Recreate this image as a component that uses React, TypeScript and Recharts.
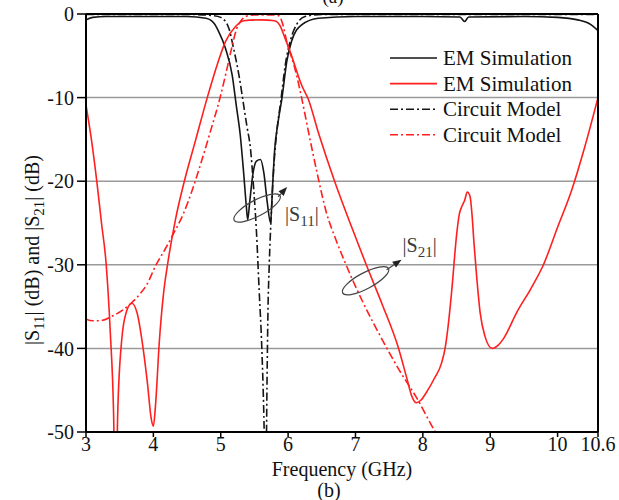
import {
  ComposedChart,
  Line,
  XAxis,
  YAxis,
  CartesianGrid,
  ReferenceLine,
  ReferenceDot,
  Customized,
} from "recharts";

const FONT = "'Liberation Serif', 'Times New Roman', serif";
const RED = "#ff1f1f";
const BLACK = "#151515";
const DASHDOT = "8 3 2 3";

// |S11| EM simulation (black solid)
const s11EmFreq = [3.0, 3.1, 3.3, 4.0, 4.5, 4.78, 4.9, 4.97, 5.07, 5.17, 5.23, 5.29, 5.34, 5.38, 5.4, 5.43, 5.48, 5.53, 5.59, 5.64, 5.69, 5.74, 5.77, 5.8, 5.85, 5.91, 5.98, 6.05, 6.2, 6.45, 7.0, 8.0, 8.55, 8.62, 8.68, 9.5, 10.0, 10.3, 10.5, 10.6];
const s11EmDb = [-0.7, -0.4, -0.3, -0.3, -0.3, -0.5, -1.1, -2.1, -4.1, -7.3, -10.9, -14.5, -19, -23, -24.6, -22.5, -19, -17.6, -17.4, -19, -22.5, -25, -20.5, -16.3, -13, -10, -5.7, -3.3, -1.3, -0.5, -0.3, -0.3, -0.35, -0.9, -0.35, -0.3, -0.4, -0.7, -1.3, -2.0];

// |S11| circuit model (black dash-dot)
const s11CmFreq = [3.0, 4.5, 4.9, 5.0, 5.12, 5.19, 5.27, 5.34, 5.39, 5.44, 5.49, 5.53, 5.57, 5.61, 5.64, 5.665, 5.69, 5.7, 5.72, 5.75, 5.79, 5.84, 5.89, 5.96, 6.04, 6.13, 6.25, 6.5, 10.6];
const s11CmDb = [-0.05, -0.05, -0.2, -0.4, -1.7, -4.1, -7.3, -10.9, -13.5, -16, -21, -26, -33, -40, -48, -58, -42, -36, -30, -24, -18, -13.5, -10.5, -6, -3, -1.2, -0.3, -0.05, -0.05];

// |S21| EM simulation (red solid)
const s21EmFreq = [3.0, 3.08, 3.16, 3.23, 3.3, 3.36, 3.41, 3.44, 3.47, 3.53, 3.6, 3.68, 3.76, 3.83, 3.91, 3.97, 4.0, 4.03, 4.09, 4.15, 4.21, 4.33, 4.46, 4.63, 4.8, 4.95, 5.07, 5.22, 5.34, 5.6, 5.8, 5.88, 5.95, 6.03, 6.2, 6.3, 6.45, 6.69, 6.92, 7.16, 7.4, 7.64, 7.76, 7.84, 7.9, 7.97, 8.05, 8.17, 8.28, 8.33, 8.38, 8.43, 8.5, 8.54, 8.58, 8.62, 8.66, 8.7, 8.73, 8.76, 8.8, 8.85, 8.92, 9.03, 9.12, 9.2, 9.4, 9.6, 9.79, 10.0, 10.2, 10.4, 10.6];
const s21EmDb = [-10.9, -15, -20, -25, -30, -38, -48, -62, -48, -39, -35.6, -34.6, -35.8, -39, -44, -48.5, -49.3, -47, -39, -33.5, -30, -24.5, -20, -15, -10, -6, -3.3, -1.5, -0.8, -0.7, -0.8, -1.4, -2.8, -4.5, -8.5, -10.2, -14.2, -20, -25, -30, -34.8, -40, -43.5, -45.8, -46.5, -46.2, -45.3, -43.6, -41.7, -40, -37, -33, -26.5, -24, -23, -22.3, -21.3, -21.8, -24, -27.5, -31.5, -35.7, -38.5, -40, -39.6, -38.8, -35.6, -32.9, -30, -25.5, -21.3, -16, -10];

// |S21| circuit model (red dash-dot)
const s21CmFreq = [3.0, 3.1, 3.2, 3.4, 3.55, 3.67, 3.8, 3.9, 4.04, 4.17, 4.29, 4.45, 4.58, 4.7, 4.83, 4.99, 5.08, 5.15, 5.24, 5.3, 5.37, 5.5, 5.75, 5.86, 5.92, 5.98, 6.1, 6.2, 6.3, 6.43, 6.57, 6.7, 6.86, 7.1, 7.4, 7.65, 7.9, 8.2, 8.3];
const s21CmDb = [-36.5, -36.7, -36.7, -36.1, -35.4, -34.6, -33.5, -32.4, -30, -28.2, -26.4, -23.8, -21, -18, -14.5, -10, -7, -4.5, -1.7, -0.8, -0.3, -0.1, -0.1, -0.2, -1.2, -3.3, -6.5, -10, -14, -19, -23.8, -26.8, -30, -34.3, -39, -42.6, -45.8, -50.2, -51.5];

const xTicks = [3, 4, 5, 6, 7, 8, 9, 10, 10.6];
const yTicks = [-50, -40, -30, -20, -10, 0];

const legendNames = ["EM Simulation", "EM Simulation", "Circuit Model", "Circuit Model"];
const legendColors = [BLACK, RED, BLACK, RED];
const legendDashed = [false, false, true, true];

const toPoints = (fs: number[], vs: number[]) => fs.map((f, i) => ({ f, v: vs[i] }));

const s11Em = toPoints(s11EmFreq, s11EmDb);
const s11Cm = toPoints(s11CmFreq, s11CmDb);
const s21Em = toPoints(s21EmFreq, s21EmDb);
const s21Cm = toPoints(s21CmFreq, s21CmDb);

function Note(props: any, sub: string, tip: [number, number], txt: [number, number]) {
  const { cx, cy } = props;
  const sx = cx + 21;
  const sy = cy - 11;
  const ex = cx + tip[0];
  const ey = cy + tip[1];
  const ang = Math.atan2(ey - sy, ex - sx);
  const L = 9;
  const Wd = 3.5;
  const bx = ex - L * Math.cos(ang);
  const by = ey - L * Math.sin(ang);
  const p1 = `${bx + Wd * Math.sin(ang)},${by - Wd * Math.cos(ang)}`;
  const p2 = `${bx - Wd * Math.sin(ang)},${by + Wd * Math.cos(ang)}`;
  return (
    <g>
      <ellipse
        cx={cx}
        cy={cy}
        rx={26}
        ry={8}
        transform={`rotate(-28 ${cx} ${cy})`}
        fill="none"
        stroke="#444"
        strokeWidth={1.2}
      />
      <line x1={sx} y1={sy} x2={bx} y2={by} stroke="#444" strokeWidth={1.2} />
      <polygon points={`${ex},${ey} ${p1} ${p2}`} fill="#222" />
      <text x={cx + txt[0]} y={cy + txt[1]} fontFamily={FONT} fontSize={20} fill="#3a3a3a">
        |S
        <tspan dy={5} fontSize={15}>{sub}</tspan>
        <tspan dy={-5}>|</tspan>
      </text>
    </g>
  );
}

function Decor() {
  return (
    <g fontFamily={FONT} fill="#111">
      <text x={333} y={3} textAnchor="middle" fontSize={19}>(a)</text>
      <text x={342} y={476} textAnchor="middle" fontSize={20}>Frequency (GHz)</text>
      <text x={329} y={497} textAnchor="middle" fontSize={20}>(b)</text>
      <text transform="translate(39,250) rotate(-90)" textAnchor="middle" fontSize={20}>
        |S
        <tspan dy={5} fontSize={15}>11</tspan>
        <tspan dy={-5}>| (dB) and |S</tspan>
        <tspan dy={5} fontSize={15}>21</tspan>
        <tspan dy={-5}>| (dB)</tspan>
      </text>
      {legendNames.map((name, i) => {
        const y = 58 + i * 25.6;
        return (
          <g key={i}>
            <line
              x1={390}
              x2={437}
              y1={y}
              y2={y}
              stroke={legendColors[i]}
              strokeWidth={1.6}
              strokeDasharray={legendDashed[i] ? DASHDOT : undefined}
            />
            <text x={443} y={y + 7} fontSize={21} fill="#111">{name}</text>
          </g>
        );
      })}
    </g>
  );
}

export default function App() {
  return (
    <div style={{ position: "absolute", left: 0, top: 0, background: "#fff" }}>
      <ComposedChart width={619} height={500} margin={{ top: 14, right: 21, bottom: 8, left: 0 }}>
        <CartesianGrid horizontal vertical={false} stroke="#9a9a9a" strokeWidth={1.5} />
        <XAxis
          dataKey="f"
          type="number"
          domain={[3, 10.6]}
          ticks={xTicks}
          interval={0}
          height={60}
          allowDataOverflow
          axisLine={{ stroke: "#000", strokeWidth: 2 }}
          tickLine={{ stroke: "#000", strokeWidth: 1.5 }}
          tickSize={5}
          tickMargin={0}
          tick={{ fill: "#111", fontSize: 20, fontFamily: FONT }}
        />
        <YAxis
          type="number"
          domain={[-50, 0]}
          ticks={yTicks}
          interval={0}
          width={86}
          allowDataOverflow
          axisLine={{ stroke: "#000", strokeWidth: 2 }}
          tickLine={{ stroke: "#000", strokeWidth: 1.5 }}
          tickSize={9}
          tickMargin={3}
          tick={{ fill: "#111", fontSize: 20, fontFamily: FONT }}
        />
        <Line data={s11Cm} dataKey="v" type="monotone" stroke={BLACK} strokeWidth={1.6} strokeDasharray={DASHDOT} dot={false} isAnimationActive={false} />
        <Line data={s21Cm} dataKey="v" type="monotone" stroke={RED} strokeWidth={1.6} strokeDasharray={DASHDOT} dot={false} isAnimationActive={false} />
        <Line data={s11Em} dataKey="v" type="monotone" stroke={BLACK} strokeWidth={1.6} dot={false} isAnimationActive={false} />
        <Line data={s21Em} dataKey="v" type="monotone" stroke={RED} strokeWidth={1.6} dot={false} isAnimationActive={false} />
        <ReferenceLine y={0} stroke="#000" strokeWidth={2.2} />
        <ReferenceLine x={10.6} stroke="#000" strokeWidth={2} />
        <ReferenceDot
          x={5.54}
          y={-23.2}
          ifOverflow="visible"
          shape={(p: any) => Note(p, "11", [30, -21], [28, 13])}
        />
        <ReferenceDot
          x={7.15}
          y={-31.9}
          ifOverflow="visible"
          shape={(p: any) => Note(p, "21", [36, -21], [37, -29])}
        />
        <Customized component={Decor} />
      </ComposedChart>
    </div>
  );
}
